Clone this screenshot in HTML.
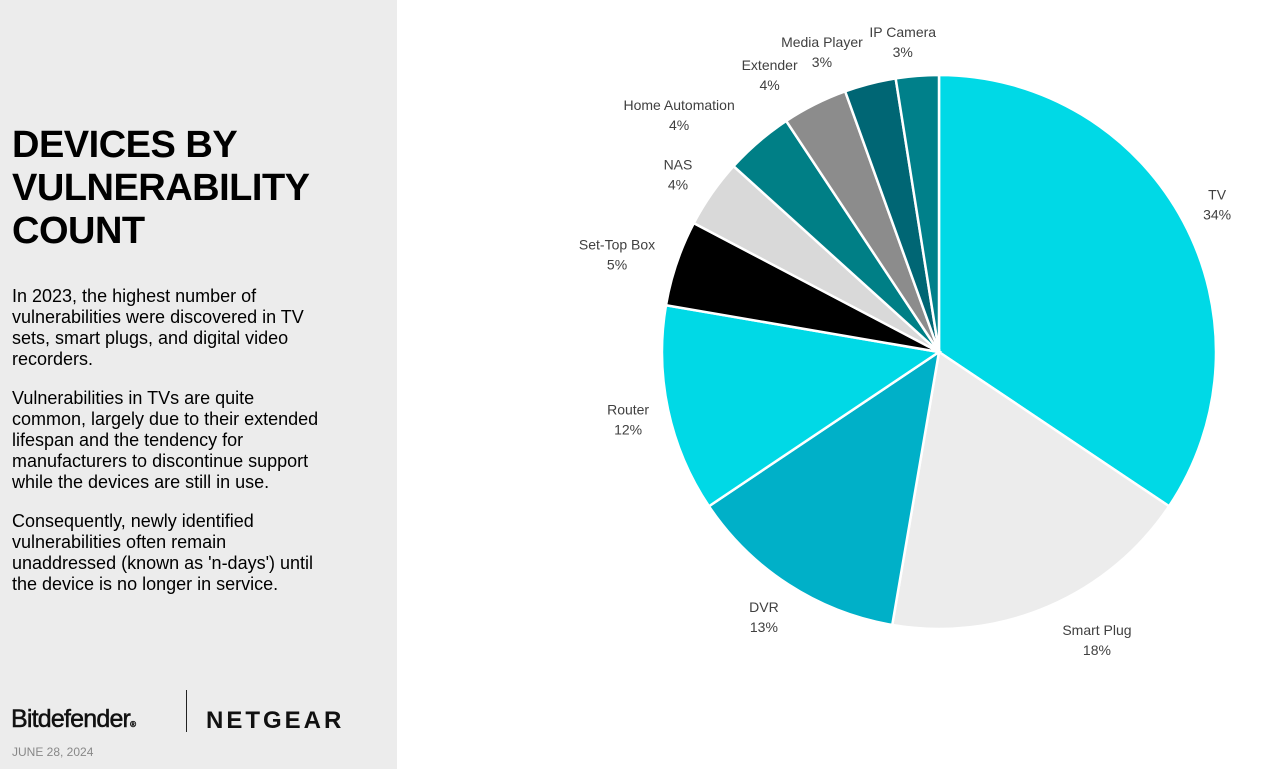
<!DOCTYPE html>
<html><head><meta charset="utf-8"><style>
body{margin:0;width:1262px;height:769px;overflow:hidden;background:#fff;font-family:"Liberation Sans",sans-serif;position:relative}
#left{position:absolute;left:0;top:0;width:397px;height:769px;background:#ececec}
h1{position:absolute;left:12px;top:124px;margin:0;font-size:38px;line-height:43px;font-weight:bold;color:#000;letter-spacing:-0.5px}
.p{position:absolute;left:12px;width:380px;font-size:18px;line-height:21px;color:#000;margin:0;white-space:nowrap}
#logo1{position:absolute;left:11px;top:705px;font-size:25px;color:#111;letter-spacing:-0.8px;-webkit-text-stroke:0.5px #111}
#sep{position:absolute;left:186px;top:690px;width:1px;height:42px;background:#222}
#logo2{position:absolute;left:206px;top:707px;font-size:24px;font-weight:bold;letter-spacing:3px;color:#111}
#date{position:absolute;left:12px;top:745px;font-size:12px;color:#888}
svg{position:absolute;left:0;top:0}
</style></head><body>
<div id="left">
<h1>DEVICES BY<br>VULNERABILITY<br>COUNT</h1>
<p class="p" style="top:286px">In 2023, the highest number of<br>vulnerabilities were discovered in TV<br>sets, smart plugs, and digital video<br>recorders.</p>
<p class="p" style="top:388px">Vulnerabilities in TVs are quite<br>common, largely due to their extended<br>lifespan and the tendency for<br>manufacturers to discontinue support<br>while the devices are still in use.</p>
<p class="p" style="top:511px">Consequently, newly identified<br>vulnerabilities often remain<br>unaddressed (known as 'n-days') until<br>the device is no longer in service.</p>
<div id="logo1">Bitdefender<span style="font-size:8px">®</span></div>
<div id="sep"></div>
<div id="logo2">NETGEAR</div>
<div id="date">JUNE 28, 2024</div>
</div>
<svg id="chart" width="1262" height="769"></svg>
<script>
const categories=["TV","Smart Plug","DVR","Router","Set-Top Box","NAS","Home Automation","Extender","Media Player","IP Camera"];
const values=[34.4,18.3,12.9,12.1,5,4,4,3.8,3,2.5];
const labels=["34%","18%","13%","12%","5%","4%","4%","4%","3%","3%"];
const colors=["#00d9e6","#ececec","#00b0c8","#00d9e6","#000000","#d9d9d9","#007f86","#8c8c8c","#006674","#00808a"];
const ldx=[-6,31,0,4,-17,3,-50,-25,-37,-11];
const ldy=[3,-9,-6,-1,5,6,6,10,11,10];
const svg=document.getElementById('chart');
const NS="http://www.w3.org/2000/svg";
const cx=939,cy=352,R=277,LR=322;
const total=values.reduce((a,b)=>a+b,0);
function pt(a,r){return [cx+r*Math.sin(a),cy-r*Math.cos(a)];}
let acc=0;
values.forEach((v,i)=>{
  const a0=acc/total*2*Math.PI; acc+=v; const a1=acc/total*2*Math.PI;
  const p0=pt(a0,R),p1=pt(a1,R);
  const path=document.createElementNS(NS,'path');
  path.setAttribute('d',`M${cx},${cy}L${p0[0]},${p0[1]}A${R},${R} 0 ${a1-a0>Math.PI?1:0} 1 ${p1[0]},${p1[1]}Z`);
  path.setAttribute('fill',colors[i]);path.setAttribute('stroke','#fff');path.setAttribute('stroke-width','2.5');
  
  
  svg.appendChild(path);
  const am=(a0+a1)/2,lp=pt(am,LR);
  const x=lp[0]+ldx[i],y=lp[1]+ldy[i];
  const t=document.createElementNS(NS,'text');
  t.setAttribute('x',x);t.setAttribute('y',y-4);t.setAttribute('text-anchor','middle');
  t.setAttribute('font-size','14');t.setAttribute('fill','#404040');t.setAttribute('font-family','Liberation Sans, sans-serif');
  
  
  const s1=document.createElementNS(NS,'tspan');s1.setAttribute('x',x);s1.textContent=categories[i];
  const s2=document.createElementNS(NS,'tspan');s2.setAttribute('x',x);s2.setAttribute('dy','20');s2.textContent=labels[i];
  t.appendChild(s1);t.appendChild(s2);svg.appendChild(t);
});
</script>
</body></html>
